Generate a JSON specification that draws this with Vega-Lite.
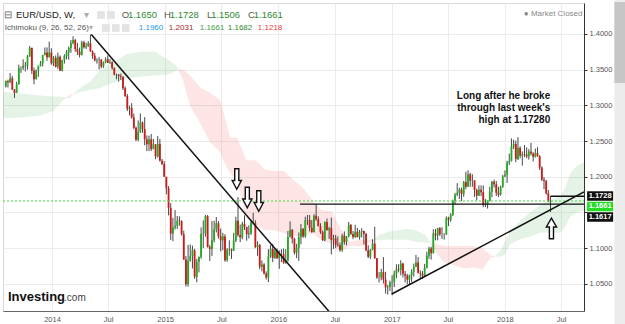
{
"$schema":"https://vega.github.io/schema/vega-lite/v6.json",
"width":581,"height":308,
"autosize":{"type":"none"},
"padding":{"left":3,"top":3,"right":41,"bottom":13},
"background":"white",
"config":{"view":{"stroke":"#d8d8d8"},"font":"Liberation Sans"},
"datasets":{
"candles":[
{"d":"2013-08-05","o":1.3265,"h":1.3347,"l":1.3250,"c":1.3342},
{"d":"2013-08-12","o":1.3342,"h":1.3360,"l":1.3250,"c":1.3325},
{"d":"2013-08-19","o":1.3325,"h":1.3452,"l":1.3310,"c":1.3380},
{"d":"2013-08-26","o":1.3380,"h":1.3413,"l":1.3215,"c":1.3220},
{"d":"2013-09-02","o":1.3220,"h":1.3230,"l":1.3105,"c":1.3177},
{"d":"2013-09-09","o":1.3177,"h":1.3330,"l":1.3175,"c":1.3295},
{"d":"2013-09-16","o":1.3295,"h":1.3570,"l":1.3290,"c":1.3525},
{"d":"2013-09-23","o":1.3525,"h":1.3545,"l":1.3455,"c":1.3525},
{"d":"2013-09-30","o":1.3525,"h":1.3645,"l":1.3495,"c":1.3555},
{"d":"2013-10-07","o":1.3555,"h":1.3608,"l":1.3475,"c":1.3550},
{"d":"2013-10-14","o":1.3550,"h":1.3705,"l":1.3500,"c":1.3685},
{"d":"2013-10-21","o":1.3685,"h":1.3832,"l":1.3680,"c":1.3805},
{"d":"2013-10-28","o":1.3805,"h":1.3810,"l":1.3440,"c":1.3485},
{"d":"2013-11-04","o":1.3485,"h":1.3530,"l":1.3295,"c":1.3365},
{"d":"2013-11-11","o":1.3365,"h":1.3500,"l":1.3365,"c":1.3495},
{"d":"2013-11-18","o":1.3495,"h":1.3555,"l":1.3400,"c":1.3555},
{"d":"2013-11-25","o":1.3555,"h":1.3620,"l":1.3545,"c":1.3590},
{"d":"2013-12-02","o":1.3590,"h":1.3708,"l":1.3545,"c":1.3705},
{"d":"2013-12-09","o":1.3705,"h":1.3811,"l":1.3700,"c":1.3740},
{"d":"2013-12-16","o":1.3740,"h":1.3812,"l":1.3625,"c":1.3675},
{"d":"2013-12-23","o":1.3675,"h":1.3893,"l":1.3670,"c":1.3740},
{"d":"2013-12-30","o":1.3740,"h":1.3800,"l":1.3570,"c":1.3590},
{"d":"2014-01-06","o":1.3590,"h":1.3690,"l":1.3550,"c":1.3665},
{"d":"2014-01-13","o":1.3665,"h":1.3700,"l":1.3530,"c":1.3540},
{"d":"2014-01-20","o":1.3540,"h":1.3740,"l":1.3510,"c":1.3680},
{"d":"2014-01-27","o":1.3680,"h":1.3700,"l":1.3480,"c":1.3485},
{"d":"2014-02-03","o":1.3485,"h":1.3640,"l":1.3476,"c":1.3635},
{"d":"2014-02-10","o":1.3635,"h":1.3715,"l":1.3585,"c":1.3690},
{"d":"2014-02-17","o":1.3690,"h":1.3775,"l":1.3645,"c":1.3745},
{"d":"2014-02-24","o":1.3745,"h":1.3825,"l":1.3640,"c":1.3805},
{"d":"2014-03-03","o":1.3805,"h":1.3915,"l":1.3735,"c":1.3875},
{"d":"2014-03-10","o":1.3875,"h":1.3967,"l":1.3855,"c":1.3915},
{"d":"2014-03-17","o":1.3915,"h":1.3930,"l":1.3750,"c":1.3790},
{"d":"2014-03-24","o":1.3790,"h":1.3875,"l":1.3705,"c":1.3750},
{"d":"2014-03-31","o":1.3750,"h":1.3810,"l":1.3672,"c":1.3705},
{"d":"2014-04-07","o":1.3705,"h":1.3905,"l":1.3700,"c":1.3885},
{"d":"2014-04-14","o":1.3885,"h":1.3905,"l":1.3795,"c":1.3815},
{"d":"2014-04-21","o":1.3815,"h":1.3877,"l":1.3790,"c":1.3830},
{"d":"2014-04-28","o":1.3830,"h":1.3900,"l":1.3820,"c":1.3870},
{"d":"2014-05-05","o":1.3870,"h":1.3993,"l":1.3750,"c":1.3755},
{"d":"2014-05-12","o":1.3755,"h":1.3770,"l":1.3650,"c":1.3695},
{"d":"2014-05-19","o":1.3695,"h":1.3735,"l":1.3615,"c":1.3630},
{"d":"2014-05-26","o":1.3630,"h":1.3660,"l":1.3585,"c":1.3635},
{"d":"2014-06-02","o":1.3635,"h":1.3677,"l":1.3503,"c":1.3640},
{"d":"2014-06-09","o":1.3640,"h":1.3650,"l":1.3520,"c":1.3545},
{"d":"2014-06-16","o":1.3545,"h":1.3615,"l":1.3525,"c":1.3605},
{"d":"2014-06-23","o":1.3605,"h":1.3675,"l":1.3590,"c":1.3645},
{"d":"2014-06-30","o":1.3645,"h":1.3700,"l":1.3595,"c":1.3595},
{"d":"2014-07-07","o":1.3595,"h":1.3650,"l":1.3580,"c":1.3605},
{"d":"2014-07-14","o":1.3605,"h":1.3620,"l":1.3500,"c":1.3525},
{"d":"2014-07-21","o":1.3525,"h":1.3530,"l":1.3420,"c":1.3430},
{"d":"2014-07-28","o":1.3430,"h":1.3445,"l":1.3365,"c":1.3430},
{"d":"2014-08-04","o":1.3430,"h":1.3440,"l":1.3333,"c":1.3410},
{"d":"2014-08-11","o":1.3410,"h":1.3445,"l":1.3355,"c":1.3400},
{"d":"2014-08-18","o":1.3400,"h":1.3405,"l":1.3215,"c":1.3240},
{"d":"2014-08-25","o":1.3240,"h":1.3265,"l":1.3120,"c":1.3130},
{"d":"2014-09-01","o":1.3130,"h":1.3160,"l":1.2920,"c":1.2950},
{"d":"2014-09-08","o":1.2950,"h":1.2995,"l":1.2860,"c":1.2965},
{"d":"2014-09-15","o":1.2965,"h":1.3030,"l":1.2815,"c":1.2830},
{"d":"2014-09-22","o":1.2830,"h":1.2885,"l":1.2665,"c":1.2685},
{"d":"2014-09-29","o":1.2685,"h":1.2705,"l":1.2500,"c":1.2520},
{"d":"2014-10-06","o":1.2520,"h":1.2790,"l":1.2500,"c":1.2630},
{"d":"2014-10-13","o":1.2630,"h":1.2887,"l":1.2615,"c":1.2760},
{"d":"2014-10-20","o":1.2760,"h":1.2775,"l":1.2615,"c":1.2670},
{"d":"2014-10-27","o":1.2670,"h":1.2835,"l":1.2440,"c":1.2525},
{"d":"2014-11-03","o":1.2525,"h":1.2580,"l":1.2360,"c":1.2455},
{"d":"2014-11-10","o":1.2455,"h":1.2575,"l":1.2360,"c":1.2525},
{"d":"2014-11-17","o":1.2525,"h":1.2600,"l":1.2360,"c":1.2390},
{"d":"2014-11-24","o":1.2390,"h":1.2530,"l":1.2385,"c":1.2455},
{"d":"2014-12-01","o":1.2455,"h":1.2455,"l":1.2245,"c":1.2285},
{"d":"2014-12-08","o":1.2285,"h":1.2570,"l":1.2270,"c":1.2460},
{"d":"2014-12-15","o":1.2460,"h":1.2530,"l":1.2215,"c":1.2225},
{"d":"2014-12-22","o":1.2225,"h":1.2250,"l":1.2165,"c":1.2180},
{"d":"2014-12-29","o":1.2180,"h":1.2220,"l":1.2000,"c":1.2000},
{"d":"2015-01-05","o":1.2000,"h":1.2000,"l":1.1755,"c":1.1840},
{"d":"2015-01-12","o":1.1840,"h":1.1870,"l":1.1460,"c":1.1565},
{"d":"2015-01-19","o":1.1565,"h":1.1630,"l":1.1115,"c":1.1205},
{"d":"2015-01-26","o":1.1205,"h":1.1425,"l":1.1098,"c":1.1290},
{"d":"2015-02-02","o":1.1290,"h":1.1535,"l":1.1260,"c":1.1315},
{"d":"2015-02-09","o":1.1315,"h":1.1450,"l":1.1270,"c":1.1385},
{"d":"2015-02-16","o":1.1385,"h":1.1445,"l":1.1315,"c":1.1380},
{"d":"2015-02-23","o":1.1380,"h":1.1390,"l":1.1175,"c":1.1195},
{"d":"2015-03-02","o":1.1195,"h":1.1245,"l":1.0840,"c":1.0840},
{"d":"2015-03-09","o":1.0840,"h":1.0890,"l":1.0462,"c":1.0495},
{"d":"2015-03-16","o":1.0495,"h":1.1045,"l":1.0462,"c":1.0825},
{"d":"2015-03-23","o":1.0825,"h":1.1052,"l":1.0810,"c":1.0890},
{"d":"2015-03-30","o":1.0890,"h":1.1035,"l":1.0715,"c":1.0970},
{"d":"2015-04-06","o":1.0970,"h":1.0990,"l":1.0570,"c":1.0600},
{"d":"2015-04-13","o":1.0600,"h":1.0850,"l":1.0521,"c":1.0810},
{"d":"2015-04-20","o":1.0810,"h":1.0885,"l":1.0660,"c":1.0875},
{"d":"2015-04-27","o":1.0875,"h":1.1290,"l":1.0850,"c":1.1200},
{"d":"2015-05-04","o":1.1200,"h":1.1390,"l":1.1000,"c":1.1200},
{"d":"2015-05-11","o":1.1200,"h":1.1467,"l":1.1160,"c":1.1450},
{"d":"2015-05-18","o":1.1450,"h":1.1465,"l":1.1010,"c":1.1015},
{"d":"2015-05-25","o":1.1015,"h":1.1045,"l":1.0820,"c":1.0990},
{"d":"2015-06-01","o":1.0990,"h":1.1380,"l":1.0890,"c":1.1110},
{"d":"2015-06-08","o":1.1110,"h":1.1385,"l":1.1080,"c":1.1265},
{"d":"2015-06-15","o":1.1265,"h":1.1436,"l":1.1220,"c":1.1350},
{"d":"2015-06-22","o":1.1350,"h":1.1380,"l":1.1135,"c":1.1165},
{"d":"2015-06-29","o":1.1165,"h":1.1275,"l":1.0955,"c":1.1110},
{"d":"2015-07-06","o":1.1110,"h":1.1215,"l":1.0970,"c":1.1165},
{"d":"2015-07-13","o":1.1165,"h":1.1195,"l":1.0810,"c":1.0830},
{"d":"2015-07-20","o":1.0830,"h":1.1000,"l":1.0810,"c":1.0980},
{"d":"2015-07-27","o":1.0980,"h":1.1110,"l":1.0895,"c":1.0985},
{"d":"2015-08-03","o":1.0985,"h":1.0995,"l":1.0850,"c":1.0965},
{"d":"2015-08-10","o":1.0965,"h":1.1215,"l":1.0960,"c":1.1105},
{"d":"2015-08-17","o":1.1105,"h":1.1440,"l":1.1085,"c":1.1385},
{"d":"2015-08-24","o":1.1385,"h":1.1714,"l":1.1160,"c":1.1185},
{"d":"2015-08-31","o":1.1185,"h":1.1330,"l":1.1085,"c":1.1150},
{"d":"2015-09-07","o":1.1150,"h":1.1370,"l":1.1125,"c":1.1340},
{"d":"2015-09-14","o":1.1340,"h":1.1460,"l":1.1255,"c":1.1295},
{"d":"2015-09-21","o":1.1295,"h":1.1300,"l":1.1105,"c":1.1195},
{"d":"2015-09-28","o":1.1195,"h":1.1320,"l":1.1135,"c":1.1210},
{"d":"2015-10-05","o":1.1210,"h":1.1390,"l":1.1185,"c":1.1360},
{"d":"2015-10-12","o":1.1360,"h":1.1495,"l":1.1330,"c":1.1350},
{"d":"2015-10-19","o":1.1350,"h":1.1390,"l":1.1000,"c":1.1015},
{"d":"2015-10-26","o":1.1015,"h":1.1095,"l":1.0895,"c":1.1045},
{"d":"2015-11-02","o":1.1045,"h":1.1060,"l":1.0705,"c":1.0740},
{"d":"2015-11-09","o":1.0740,"h":1.0830,"l":1.0675,"c":1.0770},
{"d":"2015-11-16","o":1.0770,"h":1.0790,"l":1.0630,"c":1.0645},
{"d":"2015-11-23","o":1.0645,"h":1.0675,"l":1.0560,"c":1.0590},
{"d":"2015-11-30","o":1.0590,"h":1.0985,"l":1.0524,"c":1.0885},
{"d":"2015-12-07","o":1.0885,"h":1.1045,"l":1.0865,"c":1.0990},
{"d":"2015-12-14","o":1.0990,"h":1.1060,"l":1.0805,"c":1.0865},
{"d":"2015-12-21","o":1.0865,"h":1.0990,"l":1.0850,"c":1.0965},
{"d":"2015-12-28","o":1.0965,"h":1.0995,"l":1.0850,"c":1.0860},
{"d":"2016-01-04","o":1.0860,"h":1.0970,"l":1.0710,"c":1.0925},
{"d":"2016-01-11","o":1.0925,"h":1.0985,"l":1.0805,"c":1.0915},
{"d":"2016-01-18","o":1.0915,"h":1.0995,"l":1.0780,"c":1.0795},
{"d":"2016-01-25","o":1.0795,"h":1.0985,"l":1.0780,"c":1.0830},
{"d":"2016-02-01","o":1.0830,"h":1.1240,"l":1.0810,"c":1.1155},
{"d":"2016-02-08","o":1.1155,"h":1.1376,"l":1.1150,"c":1.1255},
{"d":"2016-02-15","o":1.1255,"h":1.1270,"l":1.1065,"c":1.1130},
{"d":"2016-02-22","o":1.1130,"h":1.1145,"l":1.0910,"c":1.0935},
{"d":"2016-02-29","o":1.0935,"h":1.1060,"l":1.0860,"c":1.1005},
{"d":"2016-03-07","o":1.1005,"h":1.1220,"l":1.0822,"c":1.1155},
{"d":"2016-03-14","o":1.1155,"h":1.1340,"l":1.1055,"c":1.1270},
{"d":"2016-03-21","o":1.1270,"h":1.1280,"l":1.1145,"c":1.1165},
{"d":"2016-03-28","o":1.1165,"h":1.1440,"l":1.1145,"c":1.1390},
{"d":"2016-04-04","o":1.1390,"h":1.1465,"l":1.1325,"c":1.1395},
{"d":"2016-04-11","o":1.1395,"h":1.1465,"l":1.1235,"c":1.1285},
{"d":"2016-04-18","o":1.1285,"h":1.1395,"l":1.1215,"c":1.1225},
{"d":"2016-04-25","o":1.1225,"h":1.1475,"l":1.1220,"c":1.1455},
{"d":"2016-05-02","o":1.1455,"h":1.1616,"l":1.1385,"c":1.1405},
{"d":"2016-05-09","o":1.1405,"h":1.1445,"l":1.1305,"c":1.1310},
{"d":"2016-05-16","o":1.1310,"h":1.1350,"l":1.1200,"c":1.1225},
{"d":"2016-05-23","o":1.1225,"h":1.1245,"l":1.1100,"c":1.1115},
{"d":"2016-05-30","o":1.1115,"h":1.1375,"l":1.1095,"c":1.1365},
{"d":"2016-06-06","o":1.1365,"h":1.1415,"l":1.1250,"c":1.1250},
{"d":"2016-06-13","o":1.1250,"h":1.1300,"l":1.1130,"c":1.1280},
{"d":"2016-06-20","o":1.1280,"h":1.1427,"l":1.0912,"c":1.1115},
{"d":"2016-06-27","o":1.1115,"h":1.1187,"l":1.0990,"c":1.1135},
{"d":"2016-07-04","o":1.1135,"h":1.1185,"l":1.1000,"c":1.1050},
{"d":"2016-07-11","o":1.1050,"h":1.1165,"l":1.1020,"c":1.1040},
{"d":"2016-07-18","o":1.1040,"h":1.1080,"l":1.0950,"c":1.0975},
{"d":"2016-07-25","o":1.0975,"h":1.1200,"l":1.0950,"c":1.1175},
{"d":"2016-08-01","o":1.1175,"h":1.1235,"l":1.1050,"c":1.1085},
{"d":"2016-08-08","o":1.1085,"h":1.1170,"l":1.1040,"c":1.1160},
{"d":"2016-08-15","o":1.1160,"h":1.1366,"l":1.1150,"c":1.1325},
{"d":"2016-08-22","o":1.1325,"h":1.1340,"l":1.1185,"c":1.1200},
{"d":"2016-08-29","o":1.1200,"h":1.1240,"l":1.1125,"c":1.1155},
{"d":"2016-09-05","o":1.1155,"h":1.1327,"l":1.1145,"c":1.1230},
{"d":"2016-09-12","o":1.1230,"h":1.1285,"l":1.1150,"c":1.1155},
{"d":"2016-09-19","o":1.1155,"h":1.1255,"l":1.1120,"c":1.1225},
{"d":"2016-09-26","o":1.1225,"h":1.1280,"l":1.1150,"c":1.1240},
{"d":"2016-10-03","o":1.1240,"h":1.1245,"l":1.1050,"c":1.1200},
{"d":"2016-10-10","o":1.1200,"h":1.1215,"l":1.0955,"c":1.0970},
{"d":"2016-10-17","o":1.0970,"h":1.1040,"l":1.0860,"c":1.0880},
{"d":"2016-10-24","o":1.0880,"h":1.0990,"l":1.0850,"c":1.0975},
{"d":"2016-10-31","o":1.0975,"h":1.1125,"l":1.0970,"c":1.1065},
{"d":"2016-11-07","o":1.1065,"h":1.1300,"l":1.0850,"c":1.0860},
{"d":"2016-11-14","o":1.0860,"h":1.0860,"l":1.0570,"c":1.0590},
{"d":"2016-11-21","o":1.0590,"h":1.0665,"l":1.0520,"c":1.0590},
{"d":"2016-11-28","o":1.0590,"h":1.0710,"l":1.0550,"c":1.0665},
{"d":"2016-12-05","o":1.0665,"h":1.0875,"l":1.0505,"c":1.0560},
{"d":"2016-12-12","o":1.0560,"h":1.0670,"l":1.0365,"c":1.0450},
{"d":"2016-12-19","o":1.0450,"h":1.0485,"l":1.0350,"c":1.0455},
{"d":"2016-12-26","o":1.0455,"h":1.0545,"l":1.0400,"c":1.0520},
{"d":"2017-01-02","o":1.0520,"h":1.0620,"l":1.0340,"c":1.0530},
{"d":"2017-01-09","o":1.0530,"h":1.0685,"l":1.0455,"c":1.0645},
{"d":"2017-01-16","o":1.0645,"h":1.0775,"l":1.0580,"c":1.0705},
{"d":"2017-01-23","o":1.0705,"h":1.0775,"l":1.0660,"c":1.0695},
{"d":"2017-01-30","o":1.0695,"h":1.0830,"l":1.0620,"c":1.0785},
{"d":"2017-02-06","o":1.0785,"h":1.0795,"l":1.0590,"c":1.0640},
{"d":"2017-02-13","o":1.0640,"h":1.0680,"l":1.0520,"c":1.0615},
{"d":"2017-02-20","o":1.0615,"h":1.0640,"l":1.0494,"c":1.0560},
{"d":"2017-02-27","o":1.0560,"h":1.0630,"l":1.0495,"c":1.0620},
{"d":"2017-03-06","o":1.0620,"h":1.0705,"l":1.0525,"c":1.0670},
{"d":"2017-03-13","o":1.0670,"h":1.0785,"l":1.0600,"c":1.0740},
{"d":"2017-03-20","o":1.0740,"h":1.0906,"l":1.0735,"c":1.0800},
{"d":"2017-03-27","o":1.0800,"h":1.0875,"l":1.0650,"c":1.0650},
{"d":"2017-04-03","o":1.0650,"h":1.0690,"l":1.0570,"c":1.0640},
{"d":"2017-04-10","o":1.0640,"h":1.0680,"l":1.0570,"c":1.0615},
{"d":"2017-04-17","o":1.0615,"h":1.0780,"l":1.0605,"c":1.0725},
{"d":"2017-04-24","o":1.0725,"h":1.0950,"l":1.0715,"c":1.0895},
{"d":"2017-05-01","o":1.0895,"h":1.1020,"l":1.0850,"c":1.0995},
{"d":"2017-05-08","o":1.0995,"h":1.1020,"l":1.0840,"c":1.0930},
{"d":"2017-05-15","o":1.0930,"h":1.1265,"l":1.0925,"c":1.1205},
{"d":"2017-05-22","o":1.1205,"h":1.1268,"l":1.1110,"c":1.1180},
{"d":"2017-05-29","o":1.1180,"h":1.1285,"l":1.1110,"c":1.1280},
{"d":"2017-06-05","o":1.1280,"h":1.1295,"l":1.1170,"c":1.1195},
{"d":"2017-06-12","o":1.1195,"h":1.1295,"l":1.1130,"c":1.1195},
{"d":"2017-06-19","o":1.1195,"h":1.1210,"l":1.1120,"c":1.1195},
{"d":"2017-06-26","o":1.1195,"h":1.1445,"l":1.1185,"c":1.1425},
{"d":"2017-07-03","o":1.1425,"h":1.1440,"l":1.1310,"c":1.1400},
{"d":"2017-07-10","o":1.1400,"h":1.1490,"l":1.1370,"c":1.1470},
{"d":"2017-07-17","o":1.1470,"h":1.1680,"l":1.1450,"c":1.1665},
{"d":"2017-07-24","o":1.1665,"h":1.1775,"l":1.1610,"c":1.1750},
{"d":"2017-07-31","o":1.1750,"h":1.1910,"l":1.1730,"c":1.1775},
{"d":"2017-08-07","o":1.1775,"h":1.1845,"l":1.1690,"c":1.1820},
{"d":"2017-08-14","o":1.1820,"h":1.1850,"l":1.1660,"c":1.1760},
{"d":"2017-08-21","o":1.1760,"h":1.1940,"l":1.1720,"c":1.1925},
{"d":"2017-08-28","o":1.1925,"h":1.2070,"l":1.1825,"c":1.1860},
{"d":"2017-09-04","o":1.1860,"h":1.2092,"l":1.1860,"c":1.2035},
{"d":"2017-09-11","o":1.2035,"h":1.2055,"l":1.1860,"c":1.1945},
{"d":"2017-09-18","o":1.1945,"h":1.2035,"l":1.1860,"c":1.1950},
{"d":"2017-09-25","o":1.1950,"h":1.1950,"l":1.1718,"c":1.1815},
{"d":"2017-10-02","o":1.1815,"h":1.1835,"l":1.1670,"c":1.1735},
{"d":"2017-10-09","o":1.1735,"h":1.1880,"l":1.1730,"c":1.1820},
{"d":"2017-10-16","o":1.1820,"h":1.1880,"l":1.1730,"c":1.1785},
{"d":"2017-10-23","o":1.1785,"h":1.1880,"l":1.1575,"c":1.1610},
{"d":"2017-10-30","o":1.1610,"h":1.1690,"l":1.1575,"c":1.1610},
{"d":"2017-11-06","o":1.1610,"h":1.1670,"l":1.1555,"c":1.1665},
{"d":"2017-11-13","o":1.1665,"h":1.1860,"l":1.1655,"c":1.1790},
{"d":"2017-11-20","o":1.1790,"h":1.1940,"l":1.1715,"c":1.1930},
{"d":"2017-11-27","o":1.1930,"h":1.1960,"l":1.1850,"c":1.1895},
{"d":"2017-12-04","o":1.1895,"h":1.1940,"l":1.1730,"c":1.1775},
{"d":"2017-12-11","o":1.1775,"h":1.1860,"l":1.1715,"c":1.1750},
{"d":"2017-12-18","o":1.1750,"h":1.1875,"l":1.1735,"c":1.1860},
{"d":"2017-12-25","o":1.1860,"h":1.2025,"l":1.1845,"c":1.2005},
{"d":"2018-01-01","o":1.2005,"h":1.2090,"l":1.1995,"c":1.2030},
{"d":"2018-01-08","o":1.2030,"h":1.2225,"l":1.1915,"c":1.2200},
{"d":"2018-01-15","o":1.2200,"h":1.2325,"l":1.2165,"c":1.2220},
{"d":"2018-01-22","o":1.2220,"h":1.2537,"l":1.2215,"c":1.2425},
{"d":"2018-01-29","o":1.2425,"h":1.2520,"l":1.2390,"c":1.2460},
{"d":"2018-02-05","o":1.2460,"h":1.2505,"l":1.2205,"c":1.2250},
{"d":"2018-02-12","o":1.2250,"h":1.2555,"l":1.2235,"c":1.2405},
{"d":"2018-02-19","o":1.2405,"h":1.2425,"l":1.2260,"c":1.2295},
{"d":"2018-02-26","o":1.2295,"h":1.2355,"l":1.2155,"c":1.2315},
{"d":"2018-03-05","o":1.2315,"h":1.2445,"l":1.2275,"c":1.2310},
{"d":"2018-03-12","o":1.2310,"h":1.2413,"l":1.2260,"c":1.2285},
{"d":"2018-03-19","o":1.2285,"h":1.2388,"l":1.2240,"c":1.2355},
{"d":"2018-03-26","o":1.2355,"h":1.2475,"l":1.2300,"c":1.2325},
{"d":"2018-04-02","o":1.2325,"h":1.2345,"l":1.2215,"c":1.2280},
{"d":"2018-04-09","o":1.2280,"h":1.2395,"l":1.2270,"c":1.2330},
{"d":"2018-04-16","o":1.2330,"h":1.2415,"l":1.2280,"c":1.2290},
{"d":"2018-04-23","o":1.2290,"h":1.2300,"l":1.2095,"c":1.2130},
{"d":"2018-04-30","o":1.2130,"h":1.2145,"l":1.1940,"c":1.1960},
{"d":"2018-05-07","o":1.1960,"h":1.1995,"l":1.1825,"c":1.1940},
{"d":"2018-05-14","o":1.1940,"h":1.1955,"l":1.1750,"c":1.1770},
{"d":"2018-05-21","o":1.1770,"h":1.1815,"l":1.1645,"c":1.1655},
{"d":"2018-05-28","o":1.1650,"h":1.1728,"l":1.1506,"c":1.1661}
],
"cloud":[
{"d":"2013-07-27","hi":1.3190,"lo":1.2820,"k":"g","s":1},
{"d":"2013-09-23","hi":1.3165,"lo":1.2830,"k":"g","s":1},
{"d":"2013-11-25","hi":1.3140,"lo":1.2860,"k":"g","s":1},
{"d":"2014-01-06","hi":1.3125,"lo":1.2920,"k":"g","s":1},
{"d":"2014-02-03","hi":1.3120,"lo":1.3060,"k":"g","s":1},
{"d":"2014-02-17","hi":1.3118,"lo":1.3110,"k":"g","s":1},
{"d":"2014-02-17","hi":1.3118,"lo":1.3110,"k":"r","s":2},
{"d":"2014-02-28","hi":1.3150,"lo":1.3100,"k":"r","s":2},
{"d":"2014-03-10","hi":1.3160,"lo":1.3155,"k":"r","s":2},
{"d":"2014-03-10","hi":1.3160,"lo":1.3155,"k":"g","s":3},
{"d":"2014-04-01","hi":1.3245,"lo":1.3185,"k":"g","s":3},
{"d":"2014-05-04","hi":1.3330,"lo":1.3215,"k":"g","s":3},
{"d":"2014-06-05","hi":1.3500,"lo":1.3245,"k":"g","s":3},
{"d":"2014-07-17","hi":1.3600,"lo":1.3315,"k":"g","s":3},
{"d":"2014-08-31","hi":1.3720,"lo":1.3380,"k":"g","s":3},
{"d":"2014-10-12","hi":1.3750,"lo":1.3400,"k":"g","s":3},
{"d":"2014-11-29","hi":1.3750,"lo":1.3420,"k":"g","s":3},
{"d":"2015-01-07","hi":1.3650,"lo":1.3430,"k":"g","s":3},
{"d":"2015-02-05","hi":1.3560,"lo":1.3480,"k":"g","s":3},
{"d":"2015-02-12","hi":1.3515,"lo":1.3510,"k":"g","s":3},
{"d":"2015-02-12","hi":1.3515,"lo":1.3510,"k":"r","s":4},
{"d":"2015-02-28","hi":1.3500,"lo":1.3350,"k":"r","s":4},
{"d":"2015-03-22","hi":1.3420,"lo":1.3000,"k":"r","s":4},
{"d":"2015-04-24","hi":1.3250,"lo":1.2750,"k":"r","s":4},
{"d":"2015-05-26","hi":1.3175,"lo":1.2480,"k":"r","s":4},
{"d":"2015-06-27","hi":1.3080,"lo":1.2350,"k":"r","s":4},
{"d":"2015-07-10","hi":1.2880,"lo":1.2200,"k":"r","s":4},
{"d":"2015-07-29","hi":1.2550,"lo":1.2050,"k":"r","s":4},
{"d":"2015-08-21","hi":1.2550,"lo":1.1940,"k":"r","s":4},
{"d":"2015-09-20","hi":1.2230,"lo":1.1420,"k":"r","s":4},
{"d":"2015-10-20","hi":1.2230,"lo":1.1320,"k":"r","s":4},
{"d":"2015-11-20","hi":1.2100,"lo":1.1250,"k":"r","s":4},
{"d":"2015-12-20","hi":1.2080,"lo":1.1250,"k":"r","s":4},
{"d":"2016-01-20","hi":1.2080,"lo":1.1210,"k":"r","s":4},
{"d":"2016-02-20","hi":1.1950,"lo":1.1170,"k":"r","s":4},
{"d":"2016-03-20","hi":1.1850,"lo":1.1170,"k":"r","s":4},
{"d":"2016-04-20","hi":1.1670,"lo":1.1210,"k":"r","s":4},
{"d":"2016-05-20","hi":1.1530,"lo":1.1110,"k":"r","s":4},
{"d":"2016-06-20","hi":1.1520,"lo":1.1065,"k":"r","s":4},
{"d":"2016-07-20","hi":1.1280,"lo":1.0955,"k":"r","s":4},
{"d":"2016-08-20","hi":1.1090,"lo":1.1035,"k":"r","s":4},
{"d":"2016-09-20","hi":1.1118,"lo":1.1025,"k":"r","s":4},
{"d":"2016-10-20","hi":1.1119,"lo":1.1073,"k":"r","s":4},
{"d":"2016-11-05","hi":1.1119,"lo":1.1112,"k":"r","s":4},
{"d":"2016-11-05","hi":1.1119,"lo":1.1112,"k":"g","s":5},
{"d":"2016-11-20","hi":1.1180,"lo":1.1119,"k":"g","s":5},
{"d":"2016-12-20","hi":1.1230,"lo":1.1119,"k":"g","s":5},
{"d":"2017-01-20","hi":1.1250,"lo":1.1119,"k":"g","s":5},
{"d":"2017-02-20","hi":1.1270,"lo":1.1119,"k":"g","s":5},
{"d":"2017-03-20","hi":1.1250,"lo":1.1090,"k":"g","s":5},
{"d":"2017-04-20","hi":1.1180,"lo":1.1080,"k":"g","s":5},
{"d":"2017-05-05","hi":1.1076,"lo":1.1072,"k":"g","s":5},
{"d":"2017-05-05","hi":1.1076,"lo":1.1072,"k":"r","s":6},
{"d":"2017-05-20","hi":1.1060,"lo":1.0950,"k":"r","s":6},
{"d":"2017-06-20","hi":1.1030,"lo":1.0800,"k":"r","s":6},
{"d":"2017-07-20","hi":1.1030,"lo":1.0760,"k":"r","s":6},
{"d":"2017-08-20","hi":1.1030,"lo":1.0720,"k":"r","s":6},
{"d":"2017-09-20","hi":1.1030,"lo":1.0730,"k":"r","s":6},
{"d":"2017-10-20","hi":1.1000,"lo":1.0700,"k":"r","s":6},
{"d":"2017-11-15","hi":1.0900,"lo":1.0860,"k":"r","s":6},
{"d":"2017-12-01","hi":1.0890,"lo":1.0885,"k":"r","s":6},
{"d":"2017-12-01","hi":1.0890,"lo":1.0885,"k":"g","s":7},
{"d":"2017-12-20","hi":1.0990,"lo":1.0880,"k":"g","s":7},
{"d":"2018-01-02","hi":1.1100,"lo":1.0920,"k":"g","s":7},
{"d":"2018-01-18","hi":1.1250,"lo":1.1060,"k":"g","s":7},
{"d":"2018-02-19","hi":1.1380,"lo":1.1125,"k":"g","s":7},
{"d":"2018-03-23","hi":1.1500,"lo":1.1160,"k":"g","s":7},
{"d":"2018-04-25","hi":1.1606,"lo":1.1216,"k":"g","s":7},
{"d":"2018-05-28","hi":1.1682,"lo":1.1218,"k":"g","s":7},
{"d":"2018-06-28","hi":1.1720,"lo":1.1216,"k":"g","s":7},
{"d":"2018-07-15","hi":1.1850,"lo":1.1300,"k":"g","s":7},
{"d":"2018-07-30","hi":1.2045,"lo":1.1440,"k":"g","s":7},
{"d":"2018-08-20","hi":1.2150,"lo":1.1500,"k":"g","s":7},
{"d":"2018-09-13","hi":1.2200,"lo":1.1525,"k":"g","s":7}
],
"trend":[
{"d":"2014-05-08","p":1.3993,"g":"a"},{"d":"2016-07-01","p":1.0020,"g":"a"},
{"d":"2017-01-01","p":1.0358,"g":"b"},{"d":"2018-09-13","p":1.1787,"g":"b"}
],
"hl":[
{"d":"2016-03-11","d2":"2018-09-13","p":1.1617},
{"d":"2018-05-28","d2":"2018-09-13","p":1.1728}
],
"cur":[{"d":"2013-07-27","d2":"2018-09-13","p":1.1661}],
"arrows":[
{"d":"2015-08-20","p":1.1969,"dir":"down"},
{"d":"2015-09-23","p":1.1710,"dir":"down"},
{"d":"2015-10-30","p":1.1661,"dir":"down"},
{"d":"2018-05-31","p":1.1276,"dir":"up"}
],
"note":[{"d":"2018-05-27","p":1.3202,"t":"Long after he broke\nthrough last week's\nhigh at 1.17280"}],
"h1":[
{"d":"2013-07-29","p":1.4266,"t":"⊟","k":"icon"},
{"d":"2013-09-07","p":1.4266,"t":"EUR/USD, W,","k":"name"},
{"d":"2014-04-14","p":1.4266,"t":"▾","k":"caret"},
{"d":"2014-08-14","p":1.4266,"t":"O","k":"lab"},
{"d":"2014-09-03","p":1.4266,"t":"1.1650","k":"num"},
{"d":"2014-12-28","p":1.4266,"t":"H","k":"lab"},
{"d":"2015-01-16","p":1.4266,"t":"1.1728","k":"num"},
{"d":"2015-05-16","p":1.4266,"t":"L","k":"lab"},
{"d":"2015-05-29","p":1.4266,"t":"1.1506","k":"num"},
{"d":"2015-09-25","p":1.4266,"t":"C","k":"lab"},
{"d":"2015-10-14","p":1.4266,"t":"1.1661","k":"num"}
],
"h2":[
{"d":"2013-08-02","p":1.4084,"t":"Ichimoku (9, 26, 52, 26)","k":"ichi"},
{"d":"2014-05-02","p":1.4084,"t":"▾","k":"caret"},
{"d":"2014-10-08","p":1.4084,"t":"1.1960","k":"tk"},
{"d":"2015-01-13","p":1.4084,"t":"1.2031","k":"kj"},
{"d":"2015-04-23","p":1.4084,"t":"1.1661","k":"ch"},
{"d":"2015-07-22","p":1.4084,"t":"1.1682","k":"sa"},
{"d":"2015-10-27","p":1.4084,"t":"1.1218","k":"sb"},
{"d":"2018-03-03","p":1.4280,"t":"● Market Closed","k":"mc"}
],
"icons":[
{"d":"2014-06-08","p":1.4266},{"d":"2014-07-10","p":1.4266},
{"d":"2014-06-24","p":1.4084},{"d":"2014-07-26","p":1.4084},{"d":"2014-08-27","p":1.4084}
],
"logo":[{"d":"2013-08-12","p":1.0260,"t":"Investing"}],
"logo2":[{"d":"2014-02-09","p":1.0260,"t":".com"}],
"lbox":[
{"d":"2018-12-20","d2":"2019-02-20","p":0.99,"p2":1.45,"k":"track"},
{"d":"2018-12-20","d2":"2019-02-20","p":1.3313,"p2":1.4448,"k":"thumb"},
{"d":"2018-09-23","d2":"2018-12-16","p":1.1664,"p2":1.1797,"k":"b"},
{"d":"2018-09-23","d2":"2018-12-16","p":1.1517,"p2":1.1650,"k":"g"},
{"d":"2018-09-23","d2":"2018-12-16","p":1.1370,"p2":1.1503,"k":"b"}
],
"ltxt":[
{"d":"2018-11-04","p":1.1731,"t":"1.1728"},
{"d":"2018-11-04","p":1.1584,"t":"1.1661"},
{"d":"2018-11-04","p":1.1437,"t":"1.1617"}
]
},
"encoding":{
"x":{"field":"d","type":"temporal",
"scale":{"type":"utc","domain":[{"year":2013,"month":7,"date":27,"utc":true},{"year":2018,"month":9,"date":13,"utc":true}]},
"axis":{"title":null,"values":[{"year":2014,"month":1,"date":1,"utc":true},{"year":2014,"month":7,"date":1,"utc":true},{"year":2015,"month":1,"date":1,"utc":true},{"year":2015,"month":7,"date":1,"utc":true},{"year":2016,"month":1,"date":1,"utc":true},{"year":2016,"month":7,"date":1,"utc":true},{"year":2017,"month":1,"date":1,"utc":true},{"year":2017,"month":7,"date":1,"utc":true},{"year":2018,"month":1,"date":1,"utc":true},{"year":2018,"month":7,"date":1,"utc":true}],
"labelExpr":"utcFormat(datum.value, '%m') == '07' ? 'Jul' : utcFormat(datum.value, '%Y')",
"grid":true,"gridColor":"#ececec","domainColor":"#666666","ticks":false,"labelFontSize":7.5,"labelColor":"#555555","labelPadding":4,"labelFont":"Liberation Sans","labelOverlap":false,"labelFlush":false}}
},
"layer":[
{"data":{"name":"cloud"},
"mark":{"type":"area","fillOpacity":0.15,"interpolate":"linear"},
"encoding":{
"y":{"field":"hi","type":"quantitative","stack":null,"scale":{"domain":[1.012,1.4434],"zero":false,"nice":false},
"axis":{"orient":"right","title":null,"values":[1.05,1.1,1.15,1.2,1.25,1.3,1.35,1.4],"format":".4f","labelExpr":"abs(datum.value - 1.15) < 0.001 ? '' : datum.label","grid":true,"gridColor":"#ececec","domainColor":"#333333","tickColor":"#333333","tickSize":3,"labelFontSize":7.5,"labelColor":"#555555","labelPadding":2,"labelFont":"Liberation Sans"}},
"y2":{"field":"lo"},
"color":{"field":"k","type":"nominal","scale":{"domain":["g","r"],"range":["#4caf50","#ef5350"]},"legend":null},
"detail":{"field":"s"}}},
{"data":{"name":"candles"},
"mark":{"type":"rule","strokeWidth":0.9,"color":"#333333"},
"encoding":{"y":{"field":"l","type":"quantitative","scale":{"domain":[1.012,1.4434],"zero":false,"nice":false},
"axis":{"orient":"right","title":null,"values":[1.05,1.1,1.15,1.2,1.25,1.3,1.35,1.4],"format":".4f","labelExpr":"abs(datum.value - 1.15) < 0.001 ? '' : datum.label","grid":true,"gridColor":"#ececec","domainColor":"#333333","tickColor":"#333333","tickSize":3,"labelFontSize":7.5,"labelColor":"#555555","labelPadding":2,"labelFont":"Liberation Sans"}},"y2":{"field":"h"}}},
{"data":{"name":"candles"},
"mark":{"type":"rule","strokeWidth":1.8},
"encoding":{"y":{"field":"o","type":"quantitative","scale":{"domain":[1.012,1.4434],"zero":false,"nice":false},
"axis":{"orient":"right","title":null,"values":[1.05,1.1,1.15,1.2,1.25,1.3,1.35,1.4],"format":".4f","labelExpr":"abs(datum.value - 1.15) < 0.001 ? '' : datum.label","grid":true,"gridColor":"#ececec","domainColor":"#333333","tickColor":"#333333","tickSize":3,"labelFontSize":7.5,"labelColor":"#555555","labelPadding":2,"labelFont":"Liberation Sans"}},"y2":{"field":"c"},
"color":{"condition":{"test":"datum.c >= datum.o","value":"#22aa22"},"value":"#cc1a1a"}}},
{"data":{"name":"cur"},
"mark":{"type":"rule","strokeWidth":1.2,"color":"#44dd44","strokeDash":[2,2]},
"encoding":{"x2":{"field":"d2"},"y":{"field":"p","type":"quantitative","scale":{"domain":[1.012,1.4434],"zero":false,"nice":false},
"axis":{"orient":"right","title":null,"values":[1.05,1.1,1.15,1.2,1.25,1.3,1.35,1.4],"format":".4f","labelExpr":"abs(datum.value - 1.15) < 0.001 ? '' : datum.label","grid":true,"gridColor":"#ececec","domainColor":"#333333","tickColor":"#333333","tickSize":3,"labelFontSize":7.5,"labelColor":"#555555","labelPadding":2,"labelFont":"Liberation Sans"}}}},
{"data":{"name":"hl"},
"mark":{"type":"rule","strokeWidth":1.4,"color":"#111111"},
"encoding":{"x2":{"field":"d2"},"y":{"field":"p","type":"quantitative","scale":{"domain":[1.012,1.4434],"zero":false,"nice":false},
"axis":{"orient":"right","title":null,"values":[1.05,1.1,1.15,1.2,1.25,1.3,1.35,1.4],"format":".4f","labelExpr":"abs(datum.value - 1.15) < 0.001 ? '' : datum.label","grid":true,"gridColor":"#ececec","domainColor":"#333333","tickColor":"#333333","tickSize":3,"labelFontSize":7.5,"labelColor":"#555555","labelPadding":2,"labelFont":"Liberation Sans"}}}},
{"data":{"name":"trend"},
"mark":{"type":"line","strokeWidth":1.5,"color":"#111111","clip":true},
"encoding":{"y":{"field":"p","type":"quantitative","scale":{"domain":[1.012,1.4434],"zero":false,"nice":false},
"axis":{"orient":"right","title":null,"values":[1.05,1.1,1.15,1.2,1.25,1.3,1.35,1.4],"format":".4f","labelExpr":"abs(datum.value - 1.15) < 0.001 ? '' : datum.label","grid":true,"gridColor":"#ececec","domainColor":"#333333","tickColor":"#333333","tickSize":3,"labelFontSize":7.5,"labelColor":"#555555","labelPadding":2,"labelFont":"Liberation Sans"}},"detail":{"field":"g"}}},
{"data":{"name":"arrows"},
"mark":{"type":"point","filled":true,"fill":"white","stroke":"#111111","strokeWidth":1.4,"size":420,"opacity":1},
"encoding":{"y":{"field":"p","type":"quantitative","scale":{"domain":[1.012,1.4434],"zero":false,"nice":false},
"axis":{"orient":"right","title":null,"values":[1.05,1.1,1.15,1.2,1.25,1.3,1.35,1.4],"format":".4f","labelExpr":"abs(datum.value - 1.15) < 0.001 ? '' : datum.label","grid":true,"gridColor":"#ececec","domainColor":"#333333","tickColor":"#333333","tickSize":3,"labelFontSize":7.5,"labelColor":"#555555","labelPadding":2,"labelFont":"Liberation Sans"}},
"shape":{"field":"dir","type":"nominal","scale":{"domain":["down","up"],"range":["M-0.2,-1L0.2,-1L0.2,0.15L0.45,0.15L0,1L-0.45,0.15L-0.2,0.15Z","M-0.2,1L0.2,1L0.2,-0.15L0.5,-0.15L0,-1L-0.5,-0.15L-0.2,-0.15Z"]},"legend":null}}},
{"data":{"name":"note"},
"mark":{"type":"text","align":"right","baseline":"top","fontSize":10,"fontWeight":"bold","font":"Liberation Sans","lineHeight":12,"lineBreak":"\n","color":"#111111"},
"encoding":{"y":{"field":"p","type":"quantitative","scale":{"domain":[1.012,1.4434],"zero":false,"nice":false},
"axis":{"orient":"right","title":null,"values":[1.05,1.1,1.15,1.2,1.25,1.3,1.35,1.4],"format":".4f","labelExpr":"abs(datum.value - 1.15) < 0.001 ? '' : datum.label","grid":true,"gridColor":"#ececec","domainColor":"#333333","tickColor":"#333333","tickSize":3,"labelFontSize":7.5,"labelColor":"#555555","labelPadding":2,"labelFont":"Liberation Sans"}},"text":{"field":"t"}}},
{"data":{"name":"icons"},
"mark":{"type":"point","shape":"square","filled":true,"color":"#e3e3e3","size":60,"opacity":1},
"encoding":{"y":{"field":"p","type":"quantitative","scale":{"domain":[1.012,1.4434],"zero":false,"nice":false},
"axis":{"orient":"right","title":null,"values":[1.05,1.1,1.15,1.2,1.25,1.3,1.35,1.4],"format":".4f","labelExpr":"abs(datum.value - 1.15) < 0.001 ? '' : datum.label","grid":true,"gridColor":"#ececec","domainColor":"#333333","tickColor":"#333333","tickSize":3,"labelFontSize":7.5,"labelColor":"#555555","labelPadding":2,"labelFont":"Liberation Sans"}}}},
{"data":{"name":"h1"},
"mark":{"type":"text","align":"left","baseline":"middle","fontSize":9.5,"font":"Liberation Sans"},
"encoding":{"y":{"field":"p","type":"quantitative","scale":{"domain":[1.012,1.4434],"zero":false,"nice":false},
"axis":{"orient":"right","title":null,"values":[1.05,1.1,1.15,1.2,1.25,1.3,1.35,1.4],"format":".4f","labelExpr":"abs(datum.value - 1.15) < 0.001 ? '' : datum.label","grid":true,"gridColor":"#ececec","domainColor":"#333333","tickColor":"#333333","tickSize":3,"labelFontSize":7.5,"labelColor":"#555555","labelPadding":2,"labelFont":"Liberation Sans"}},"text":{"field":"t"},
"color":{"field":"k","type":"nominal","scale":{"domain":["icon","name","caret","lab","num"],"range":["#666666","#222222","#aaaaaa","#555555","#2e8b2e"]},"legend":null}}},
{"data":{"name":"h2"},
"mark":{"type":"text","align":"left","baseline":"middle","fontSize":8,"font":"Liberation Sans"},
"encoding":{"y":{"field":"p","type":"quantitative","scale":{"domain":[1.012,1.4434],"zero":false,"nice":false},
"axis":{"orient":"right","title":null,"values":[1.05,1.1,1.15,1.2,1.25,1.3,1.35,1.4],"format":".4f","labelExpr":"abs(datum.value - 1.15) < 0.001 ? '' : datum.label","grid":true,"gridColor":"#ececec","domainColor":"#333333","tickColor":"#333333","tickSize":3,"labelFontSize":7.5,"labelColor":"#555555","labelPadding":2,"labelFont":"Liberation Sans"}},"text":{"field":"t"},
"color":{"field":"k","type":"nominal","scale":{"domain":["ichi","caret","tk","kj","ch","sa","sb","mc"],"range":["#555555","#aaaaaa","#2196f3","#a52a2a","#43a047","#2e8b2e","#f23b3b","#888888"]},"legend":null}}},
{"data":{"name":"logo"},
"mark":{"type":"text","align":"left","baseline":"alphabetic","fontSize":13,"fontWeight":"bold","font":"Liberation Sans","color":"#111111"},
"encoding":{"y":{"field":"p","type":"quantitative","scale":{"domain":[1.012,1.4434],"zero":false,"nice":false},
"axis":{"orient":"right","title":null,"values":[1.05,1.1,1.15,1.2,1.25,1.3,1.35,1.4],"format":".4f","labelExpr":"abs(datum.value - 1.15) < 0.001 ? '' : datum.label","grid":true,"gridColor":"#ececec","domainColor":"#333333","tickColor":"#333333","tickSize":3,"labelFontSize":7.5,"labelColor":"#555555","labelPadding":2,"labelFont":"Liberation Sans"}},"text":{"field":"t"}}},
{"data":{"name":"logo2"},
"mark":{"type":"text","align":"left","baseline":"alphabetic","fontSize":10,"font":"Liberation Sans","color":"#444444"},
"encoding":{"y":{"field":"p","type":"quantitative","scale":{"domain":[1.012,1.4434],"zero":false,"nice":false},
"axis":{"orient":"right","title":null,"values":[1.05,1.1,1.15,1.2,1.25,1.3,1.35,1.4],"format":".4f","labelExpr":"abs(datum.value - 1.15) < 0.001 ? '' : datum.label","grid":true,"gridColor":"#ececec","domainColor":"#333333","tickColor":"#333333","tickSize":3,"labelFontSize":7.5,"labelColor":"#555555","labelPadding":2,"labelFont":"Liberation Sans"}},"text":{"field":"t"}}},
{"data":{"name":"lbox"},
"mark":{"type":"rect","clip":false},
"encoding":{"x2":{"field":"d2"},"y":{"field":"p","type":"quantitative","scale":{"domain":[1.012,1.4434],"zero":false,"nice":false},
"axis":{"orient":"right","title":null,"values":[1.05,1.1,1.15,1.2,1.25,1.3,1.35,1.4],"format":".4f","labelExpr":"abs(datum.value - 1.15) < 0.001 ? '' : datum.label","grid":true,"gridColor":"#ececec","domainColor":"#333333","tickColor":"#333333","tickSize":3,"labelFontSize":7.5,"labelColor":"#555555","labelPadding":2,"labelFont":"Liberation Sans"}},"y2":{"field":"p2"},
"color":{"field":"k","type":"nominal","scale":{"domain":["b","g","track","thumb"],"range":["#111111","#22dd22","#ececec","#c6c6c6"]},"legend":null}}},
{"data":{"name":"ltxt"},
"mark":{"type":"text","align":"center","baseline":"middle","fontSize":7.5,"fontWeight":"bold","font":"Liberation Sans","color":"white","clip":false},
"encoding":{"y":{"field":"p","type":"quantitative","scale":{"domain":[1.012,1.4434],"zero":false,"nice":false},
"axis":{"orient":"right","title":null,"values":[1.05,1.1,1.15,1.2,1.25,1.3,1.35,1.4],"format":".4f","labelExpr":"abs(datum.value - 1.15) < 0.001 ? '' : datum.label","grid":true,"gridColor":"#ececec","domainColor":"#333333","tickColor":"#333333","tickSize":3,"labelFontSize":7.5,"labelColor":"#555555","labelPadding":2,"labelFont":"Liberation Sans"}},"text":{"field":"t"}}}
],
"resolve":{"scale":{"color":"independent","shape":"independent"}}
}
